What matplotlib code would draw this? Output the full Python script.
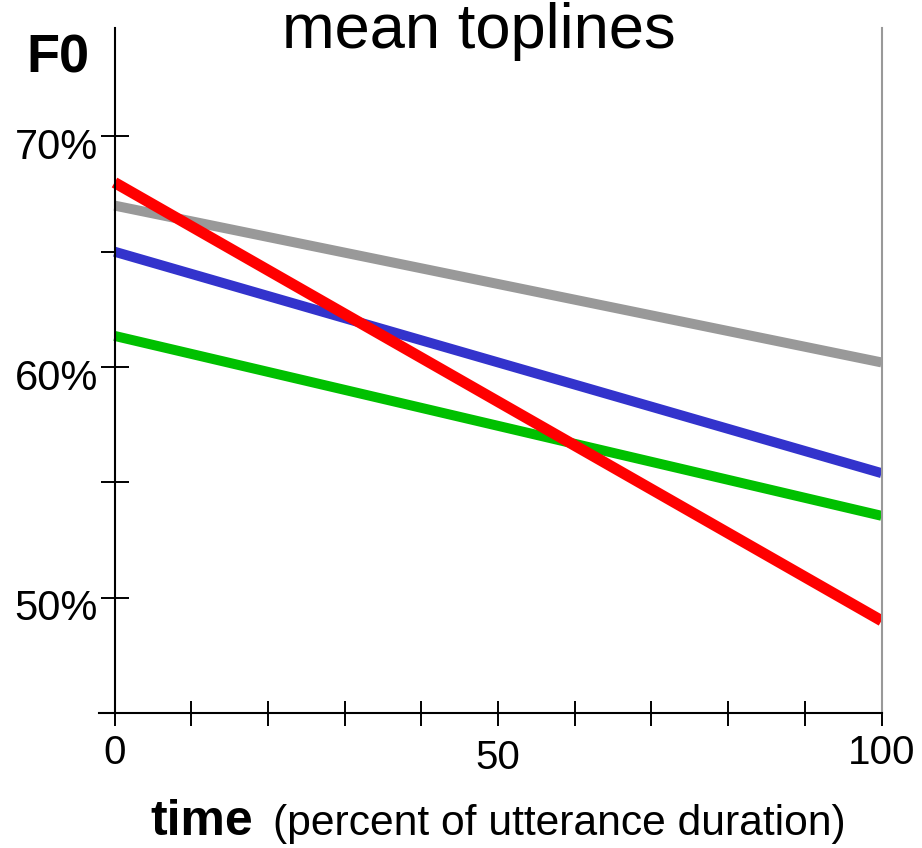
import matplotlib
matplotlib.use("Agg")
import matplotlib.pyplot as plt
from matplotlib.transforms import ScaledTranslation

plt.rcParams['font.family'] = ['Liberation Sans', 'DejaVu Sans']

# mean topline endpoints (percent of speaker F0 range)
time = [0, 100]
gray_line = [67.0, 60.2]
green_line = [61.35, 53.55]
blue_line = [65.0, 55.4]
red_line = [68.0, 49.0]

y_ticks = [50, 55, 60, 65, 70]
y_tick_labels = ["50%", "", "60%", "", "70%"]
x_ticks = [0, 10, 20, 30, 40, 50, 60, 70, 80, 90, 100]
x_tick_labels = ["0", "", "", "", "", "50", "", "", "", "", "100"]

fig = plt.figure(figsize=(9.22, 8.48), dpi=100)
ax = fig.add_axes([0.1076, 0.1592, 0.8485, 0.8078])

ax.plot(time, gray_line, color="#999999", lw=7.2, solid_capstyle="butt")
ax.plot(time, green_line, color="#00c000", lw=7.2, solid_capstyle="butt")
ax.plot(time, blue_line, color="#3333cc", lw=7.2, solid_capstyle="butt")
ax.plot(time, red_line, color="#ff0000", lw=8, solid_capstyle="butt")

ax.set_xlim(-2, 100)
ax.set_ylim(45, 74.7)

ax.spines['top'].set_visible(False)
ax.spines['left'].set_position(('data', 0))
ax.spines['left'].set_linewidth(1.5)
ax.spines['bottom'].set_linewidth(1.5)
ax.spines['right'].set_color("#999999")
ax.spines['right'].set_linewidth(1.5)

ax.set_yticks(y_ticks)
ax.set_yticklabels(y_tick_labels)
ax.set_xticks(x_ticks)
ax.set_xticklabels(x_tick_labels)
ax.tick_params(axis='y', direction='inout', length=20, width=1.4, pad=2, labelsize=30)
ax.tick_params(axis='x', direction='inout', length=18, width=1.4, pad=6, labelsize=29)
ax.tick_params(axis='y', right=False)

for lab in ax.get_yticklabels():
    lab.set_transform(lab.get_transform() + ScaledTranslation(0, -0.07, fig.dpi_scale_trans))
ax.get_xticklabels()[5].set_transform(
    ax.get_xticklabels()[5].get_transform() + ScaledTranslation(0, -0.05, fig.dpi_scale_trans))

fig.text(0.5195, 0.943, "mean toplines", fontsize=45.5, ha="center", va="baseline")
fig.text(0.0624, 0.915, "F0", fontsize=39, fontweight="bold", ha="center", va="baseline")
fig.text(0.1627, 0.0153, "time", fontsize=36, fontweight="bold", ha="left", va="baseline")
fig.text(0.296, 0.0153, "(percent of utterance duration)", fontsize=30.7, ha="left", va="baseline")

fig.savefig("out.png", dpi=100)
